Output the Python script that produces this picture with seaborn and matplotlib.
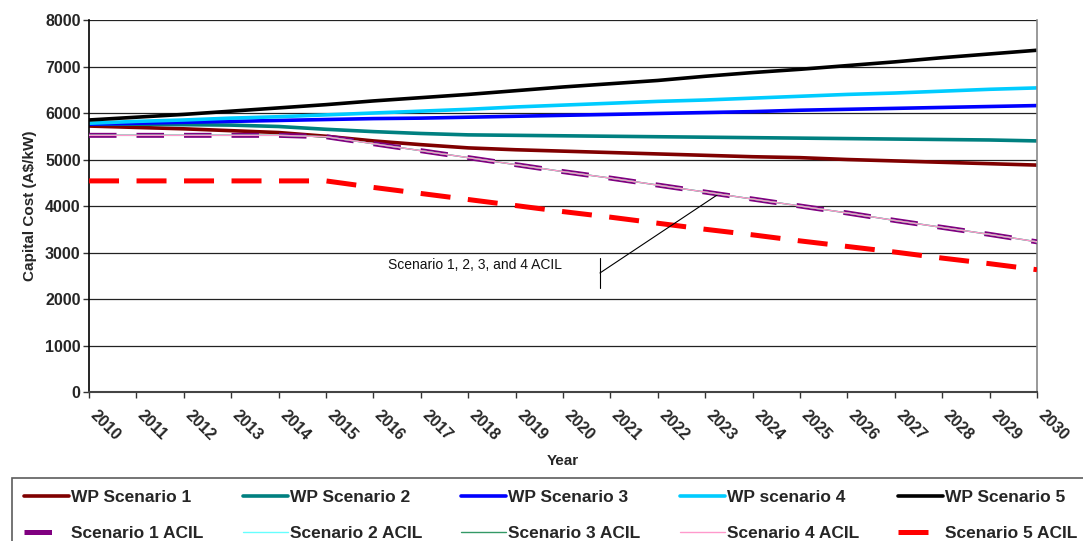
import numpy as np
import pandas as pd
import matplotlib
matplotlib.use("Agg")
import matplotlib.pyplot as plt
import matplotlib.transforms as mtransforms
import seaborn as sns

years = list(range(2010, 2031))

wp_s1 = [5720, 5690, 5660, 5620, 5580, 5500, 5400, 5320, 5250, 5210, 5180,
         5150, 5120, 5090, 5060, 5040, 5000, 4970, 4940, 4910, 4880]
wp_s2 = [5760, 5760, 5750, 5740, 5710, 5650, 5600, 5560, 5530, 5520, 5510,
         5500, 5490, 5480, 5470, 5460, 5450, 5440, 5430, 5420, 5400]
wp_s3 = [5760, 5780, 5800, 5820, 5840, 5860, 5880, 5890, 5910, 5930, 5950,
         5970, 5990, 6010, 6030, 6060, 6080, 6100, 6120, 6140, 6160]
wp_s4 = [5780, 5820, 5850, 5890, 5920, 5960, 6000, 6040, 6080, 6130, 6170,
         6210, 6250, 6280, 6320, 6360, 6400, 6430, 6470, 6510, 6540]
wp_s5 = [5850, 5910, 5970, 6040, 6110, 6180, 6260, 6330, 6400, 6480, 6560,
         6630, 6700, 6790, 6870, 6940, 7020, 7100, 7190, 7270, 7350]
acil_1234 = [5520, 5520, 5520, 5520, 5520, 5490, 5340, 5190, 5040, 4890, 4740,
             4600, 4450, 4300, 4150, 4000, 3850, 3690, 3540, 3390, 3230]
acil_5 = [4540, 4540, 4540, 4540, 4540, 4540, 4400, 4270, 4140, 4010, 3880,
          3760, 3630, 3500, 3380, 3250, 3130, 3010, 2880, 2760, 2630]

sns.set_style("white")
plt.rcParams['font.family'] = ['Liberation Sans', 'DejaVu Sans']

fig = plt.figure(figsize=(10.83, 5.41), dpi=100)
ax = fig.add_axes([0.0822, 0.2754, 0.9575 - 0.0822, 0.963 - 0.2754])

series = [
    ("WP Scenario 1", wp_s1, dict(color="#800000", lw=2.6)),
    ("Scenario 1 ACIL", acil_1234, dict(color="#800080", lw=3.6, dashes=(5.5, 4))),
    ("WP Scenario 2", wp_s2, dict(color="#008080", lw=2.6)),
    ("Scenario 2 ACIL", acil_1234, dict(color="#66FFFF", lw=1.0)),
    ("WP Scenario 3", wp_s3, dict(color="#0000FF", lw=2.6)),
    ("Scenario 3 ACIL", acil_1234, dict(color="#339966", lw=1.0)),
    ("WP scenario 4", wp_s4, dict(color="#00CCFF", lw=2.6)),
    ("Scenario 4 ACIL", acil_1234, dict(color="#FF99CC", lw=1.0)),
    ("WP Scenario 5", wp_s5, dict(color="#000000", lw=2.6)),
    ("Scenario 5 ACIL", acil_5, dict(color="#FF0000", lw=3.6, dashes=(6, 3.5))),
]

zorders = {"Scenario 1 ACIL": 3, "Scenario 2 ACIL": 4, "Scenario 3 ACIL": 4,
           "Scenario 4 ACIL": 5, "Scenario 5 ACIL": 3}

handles = {}
for name, vals, st in series:
    df = pd.DataFrame({"Year": years, "Cost": vals})
    kw = dict(color=st["color"], linewidth=st["lw"])
    sns.lineplot(data=df, x="Year", y="Cost", ax=ax, label=name, **kw,
                 zorder=zorders.get(name, 2))
    line = ax.get_lines()[-1]
    if "dashes" in st:
        line.set_dashes(st["dashes"])
    handles[name] = line

ax.set_xlim(2010, 2030)
ax.set_ylim(0, 8000)
ax.set_xticks(years)
ax.set_xticklabels([str(y) for y in years], rotation=-45, ha="left",
                   va="top", rotation_mode="anchor", fontweight="bold",
                   fontsize=11.5)
ax.set_yticks(range(0, 8001, 1000))
ax.set_yticklabels([str(v) for v in range(0, 8001, 1000)],
                   fontweight="bold", fontsize=11.5)
ax.tick_params(axis="both", length=4, width=1, color="#333333",
               direction="out", bottom=True, left=True, pad=2)
ax.tick_params(axis="x", pad=7)
offset = mtransforms.ScaledTranslation(9 / 100, 0, fig.dpi_scale_trans)
for lab in ax.get_xticklabels():
    lab.set_transform(lab.get_transform() + offset)
ax.yaxis.grid(True, color="#222222", linewidth=0.9)
ax.set_axisbelow(True)
ax.spines["left"].set_color("#000000")
ax.spines["left"].set_linewidth(1.2)
ax.spines["bottom"].set_color("#444444")
ax.spines["bottom"].set_linewidth(1.5)
ax.spines["right"].set_color("#888888")
ax.spines["right"].set_linewidth(1.2)
ax.spines["top"].set_visible(False)

ax.set_xlabel("Year", fontweight="bold", fontsize=11, labelpad=8)
ax.set_ylabel("Capital Cost (A$/kW)", fontweight="bold", fontsize=11, labelpad=6)

# annotation callout
ax.text(2016.3, 2740, "Scenario 1, 2, 3, and 4 ACIL", fontsize=10,
        ha="left", va="center", color="#111111")
ax.plot([2020.78, 2020.78], [2240, 2880], color="black", lw=0.8)
ax.annotate("", xy=(2023.3, 4270), xytext=(2020.78, 2560),
            arrowprops=dict(arrowstyle="-", color="black", lw=0.8,
                            shrinkA=0, shrinkB=0))

ax.get_legend().remove()
order = ["WP Scenario 1", "Scenario 1 ACIL", "WP Scenario 2", "Scenario 2 ACIL",
         "WP Scenario 3", "Scenario 3 ACIL", "WP scenario 4", "Scenario 4 ACIL",
         "WP Scenario 5", "Scenario 5 ACIL"]
leg = fig.legend([handles[n] for n in order], order, ncol=5,
                 loc="upper left", bbox_to_anchor=(0.011, 0.1165, 0.995, 0.0),
                 mode="expand", frameon=True, fancybox=False,
                 prop=dict(weight="bold", size=12.5), handlelength=2.6,
                 handletextpad=0.1, labelspacing=1.18, borderpad=0.7,
                 borderaxespad=0, columnspacing=0.5)
leg.get_frame().set_edgecolor("#333333")
leg.get_frame().set_linewidth(1.2)

fig.savefig("out.png", dpi=100)
